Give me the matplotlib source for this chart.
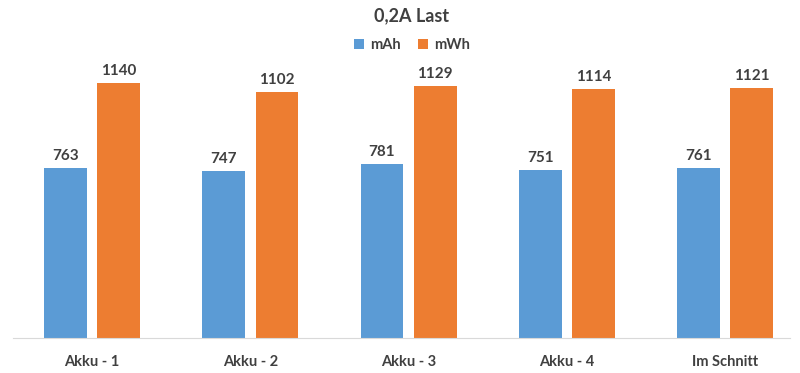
import matplotlib.pyplot as plt
import numpy as np

plt.rcParams['font.family'] = ['Lato', 'DejaVu Sans']

categories = ['Akku - 1', 'Akku - 2', 'Akku - 3', 'Akku - 4', 'Im Schnitt']
mah = [763, 747, 781, 751, 761]
mwh = [1140, 1102, 1129, 1114, 1121]

blue = '#5B9BD5'
orange = '#ED7D31'
grey = '#404040'

fig = plt.figure(figsize=(8, 3.73), dpi=100)
ax = fig.add_axes([13 / 800, 35 / 373, 777 / 800, 268 / 373])

x = np.arange(len(categories))
w = 0.27
off = 0.168
b1 = ax.bar(x - off, mah, w, color=blue, label='mAh')
b2 = ax.bar(x + off, mwh, w, color=orange, label='mWh')

for bars in (b1, b2):
    for r in bars:
        ax.text(r.get_x() + r.get_width() / 2, r.get_height() + 22, str(int(r.get_height())),
                ha='center', va='bottom', fontsize=11, fontweight='bold', color=grey)

ax.set_xlim(-0.5, 4.41)
ax.set_ylim(0, 1200)
ax.set_yticks([])
ax.set_xticks(x)
ax.set_xticklabels(categories, fontsize=10.5, fontweight='bold', color=grey)
ax.tick_params(axis='x', length=0, pad=12)
for s in ['top', 'right', 'left']:
    ax.spines[s].set_visible(False)
ax.spines['bottom'].set_color('#d9d9d9')

fig.text(0.515, 1 - 16 / 373, '0,2A Last', ha='center', va='center', fontsize=13,
         fontweight='bold', color=grey)
fig.legend(loc='center', bbox_to_anchor=(0.515, 1 - 45 / 373), ncol=2, frameon=False,
           handlelength=0.7, handleheight=0.7, handletextpad=0.4,
           columnspacing=1.2, prop={'weight': 'bold', 'size': 10.5}, labelcolor=grey)

fig.savefig('out.png', dpi=100)
